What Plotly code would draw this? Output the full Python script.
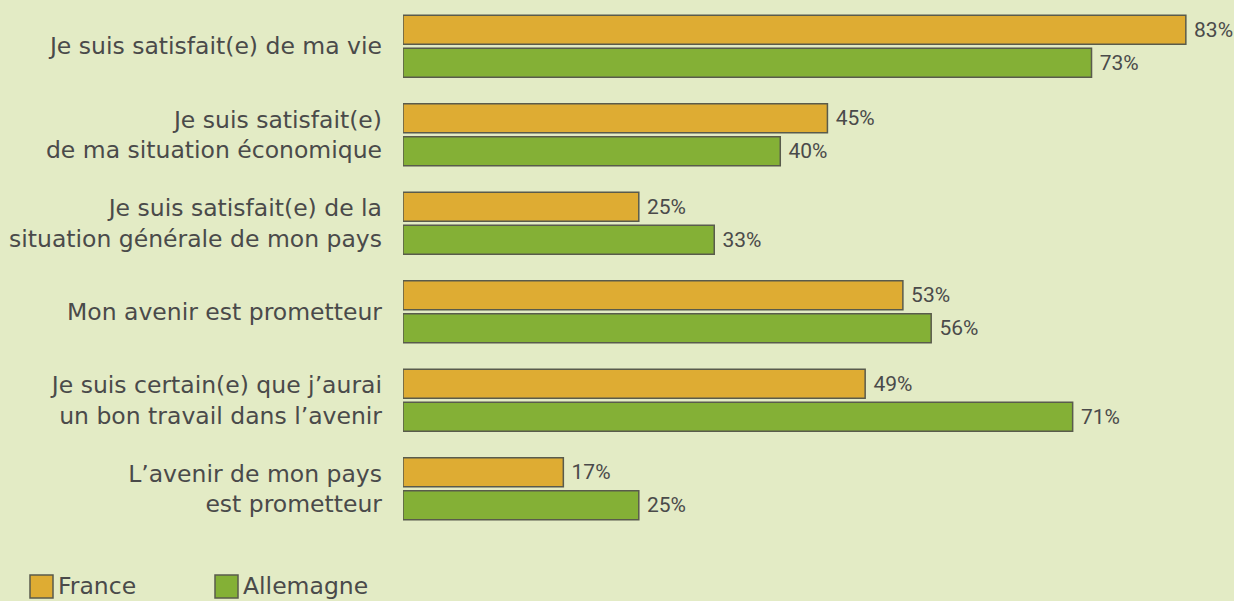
import plotly.graph_objects as go

categories = [
    "Je suis satisfait(e) de ma vie",
    "Je suis satisfait(e)<br>de ma situation économique",
    "Je suis satisfait(e) de la<br>situation générale de mon pays",
    "Mon avenir est prometteur",
    "Je suis certain(e) que j’aurai<br>un bon travail dans l’avenir",
    "L’avenir de mon pays<br>est prometteur",
]
france = [83, 45, 25, 53, 49, 17]
allemagne = [73, 40, 33, 56, 71, 25]
series_names = ["France", "Allemagne"]

BG = "#e3ebc5"
ORANGE = "#deac33"
GREEN = "#84b036"
EDGE = "#595b4c"
TXT = "#4a4a4a"
LABEL_FONT = "DejaVu Sans"
LABEL_SIZE = 23.5

fig = go.Figure()
for name, vals, col in [(series_names[0], france, ORANGE), (series_names[1], allemagne, GREEN)]:
    fig.add_trace(go.Bar(
        y=categories, x=vals, name=name, orientation="h",
        marker=dict(color=col, line=dict(color=EDGE, width=1.5)),
        text=[f" {v}%" for v in vals], textposition="outside",
        constraintext="none", cliponaxis=False,
        textfont=dict(family="Roboto", size=21, color=TXT),
        showlegend=False,
    ))

fig.update_layout(
    width=1234, height=601,
    paper_bgcolor=BG, plot_bgcolor=BG,
    margin=dict(l=403, r=1, t=2, b=68),
    barmode="group", bargap=0.255, bargroupgap=0.12,
    xaxis=dict(range=[0, 88], visible=False, fixedrange=True),
    yaxis=dict(autorange=False, range=[5.5, -0.5], showgrid=False, zeroline=False,
               showline=False, ticks="", ticklabelstandoff=20,
               tickfont=dict(family=LABEL_FONT, size=LABEL_SIZE, color=TXT)),
    showlegend=False,
)

# legend built from series names (pixel positions converted to paper coords)
def px_x(p):
    return (p - 403) / 830

def px_y(p):
    return (533 - p) / 531

legend_x = [30, 215]
for i, (name, col) in enumerate(zip(series_names, [ORANGE, GREEN])):
    x0 = legend_x[i]
    fig.add_shape(type="rect", xref="paper", yref="paper",
                  x0=px_x(x0), x1=px_x(x0 + 23),
                  y0=px_y(598), y1=px_y(575),
                  fillcolor=col, line=dict(color=EDGE, width=1.5))
    fig.add_annotation(xref="paper", yref="paper", x=px_x(x0 + 26),
                       y=px_y(586), text=name, showarrow=False,
                       xanchor="left", yanchor="middle",
                       font=dict(family=LABEL_FONT, size=LABEL_SIZE, color=TXT))

fig.write_html("out.html", config={"displayModeBar": False},
               post_script="document.body.style.margin='0';document.body.style.background='%s';" % BG)
